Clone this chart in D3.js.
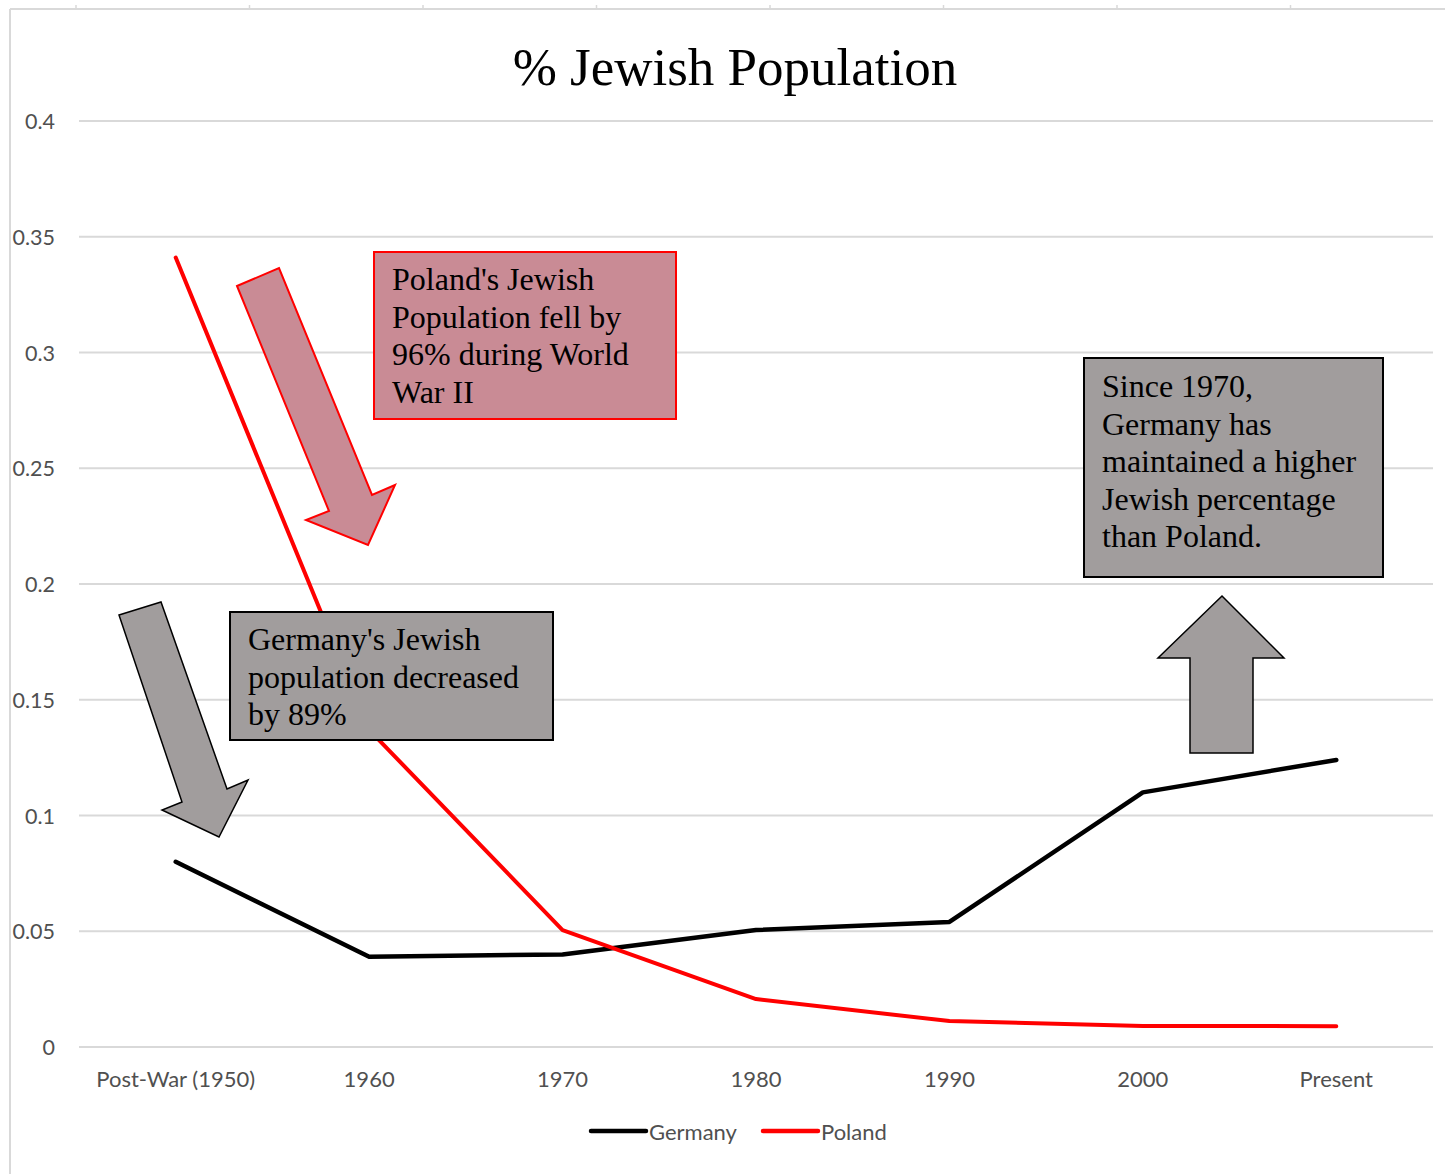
<!DOCTYPE html>
<html>
<head>
<meta charset="utf-8">
<script src="https://cdn.jsdelivr.net/npm/d3@7"></script>
<style>
  html, body { margin: 0; padding: 0; background: #fff; }
  svg { display: block; }
</style>
</head>
<body>
<svg id="chart"></svg>
<script>
// data
const categories = ["Post-War (1950)", "1960", "1970", "1980", "1990", "2000", "Present"];
const germany = [0.080, 0.039, 0.040, 0.0505, 0.054, 0.110, 0.124];
const poland = [0.341, 0.137, 0.0505, 0.0207, 0.0112, 0.0091, 0.009];
const yTicks = [0, 0.05, 0.1, 0.15, 0.2, 0.25, 0.3, 0.35, 0.4];
const seriesNames = ["Germany", "Poland"];

const width = 1445, height = 1174;
const svg = d3.select("#chart").attr("width", width).attr("height", height);

const axisFont = "Lato, 'Open Sans', sans-serif";
const serif = "'Liberation Serif', 'Times New Roman', serif";
const gridColor = "#d9d9d9";
const labelColor = "#505050";

// page frame (top edge w/ little ruler ticks, left edge)
svg.append("line").attr("x1", 10).attr("x2", width).attr("y1", 9).attr("y2", 9)
  .attr("stroke", gridColor).attr("stroke-width", 2);
svg.append("line").attr("x1", 10).attr("x2", 10).attr("y1", 9).attr("y2", height)
  .attr("stroke", gridColor).attr("stroke-width", 2);
d3.range(8).forEach(i => {
  svg.append("line").attr("x1", 76 + i * 173.5).attr("x2", 76 + i * 173.5)
    .attr("y1", 5).attr("y2", 9).attr("stroke", gridColor).attr("stroke-width", 1.5);
});

const x = d3.scalePoint().domain(categories).range([79, 1433]).padding(0.5);
const y = d3.scaleLinear().domain([0, 0.4]).range([1047, 121]);

// gridlines
svg.append("g").selectAll("line").data(yTicks).join("line")
  .attr("x1", 79).attr("x2", 1433)
  .attr("y1", d => y(d)).attr("y2", d => y(d))
  .attr("stroke", gridColor).attr("stroke-width", 2);

// y labels
svg.append("g").selectAll("text").data(yTicks).join("text")
  .attr("x", 55).attr("y", d => y(d) + 8)
  .attr("text-anchor", "end")
  .attr("font-family", axisFont).attr("font-size", 21.5).attr("fill", labelColor)
  .text(d => d);

// x labels
svg.append("g").selectAll("text").data(categories).join("text")
  .attr("x", d => x(d)).attr("y", 1087)
  .attr("text-anchor", "middle")
  .attr("font-family", axisFont).attr("font-size", 22).attr("fill", labelColor)
  .text(d => d);

// title
svg.append("text").attr("x", 735).attr("y", 85).attr("text-anchor", "middle")
  .attr("font-family", serif).attr("font-size", 53).attr("fill", "#000")
  .text("% Jewish Population");

const line = d3.line().x((d, i) => x(categories[i])).y(d => y(d));

svg.append("path").datum(germany).attr("d", line)
  .attr("fill", "none").attr("stroke", "#000").attr("stroke-width", 4.5)
  .attr("stroke-linecap", "round").attr("stroke-linejoin", "round");
svg.append("path").datum(poland).attr("d", line)
  .attr("fill", "none").attr("stroke", "#ff0000").attr("stroke-width", 4)
  .attr("stroke-linecap", "round").attr("stroke-linejoin", "round");

// annotations
const grey = "#a19d9d";
const pink = "#c98b95";

function arrow(points, fill, stroke, sw) {
  svg.append("polygon").attr("points", points.map(p => p.join(",")).join(" "))
    .attr("fill", fill).attr("stroke", stroke).attr("stroke-width", sw)
    .attr("stroke-linejoin", "miter");
}
function box(x0, y0, x1, y1, fill, stroke, lines, tx, ty) {
  svg.append("rect").attr("x", x0).attr("y", y0).attr("width", x1 - x0).attr("height", y1 - y0)
    .attr("fill", fill).attr("stroke", stroke).attr("stroke-width", 2);
  const t = svg.append("text").attr("font-family", serif).attr("font-size", 32).attr("fill", "#000");
  lines.forEach((s, i) => t.append("tspan").attr("x", tx).attr("y", ty + i * 37.5).text(s));
}

arrow([[237, 286], [279, 268], [372, 495], [395, 485], [368, 545], [306, 520], [329, 511]], pink, "#ff0000", 2);
box(374, 252, 676, 419, pink, "#ff0000",
  ["Poland's Jewish", "Population fell by", "96% during World", "War II"], 392, 290);

arrow([[119, 615], [161, 602], [227, 789], [248, 780], [219, 837], [162, 810], [182, 802]], grey, "#000", 1.5);
box(230, 612, 553, 740, grey, "#000",
  ["Germany's Jewish", "population decreased", "by 89%"], 248, 650);

box(1084, 358, 1383, 577, grey, "#000",
  ["Since 1970,", "Germany has", "maintained a higher", "Jewish percentage", "than Poland."], 1102, 397);
arrow([[1222, 596], [1284, 658], [1253, 658], [1253, 753], [1190, 753], [1190, 658], [1158, 658]], grey, "#000", 1.5);

// legend
const legendColors = ["#000", "#ff0000"];
const legendX = [591, 763];
seriesNames.forEach((name, i) => {
  svg.append("line").attr("x1", legendX[i]).attr("x2", legendX[i] + 55)
    .attr("y1", 1131).attr("y2", 1131)
    .attr("stroke", legendColors[i]).attr("stroke-width", 4.5).attr("stroke-linecap", "round");
  svg.append("text").attr("x", legendX[i] + 58).attr("y", 1140)
    .attr("font-family", axisFont).attr("font-size", 22).attr("fill", labelColor)
    .text(name);
});
</script>
</body>
</html>
